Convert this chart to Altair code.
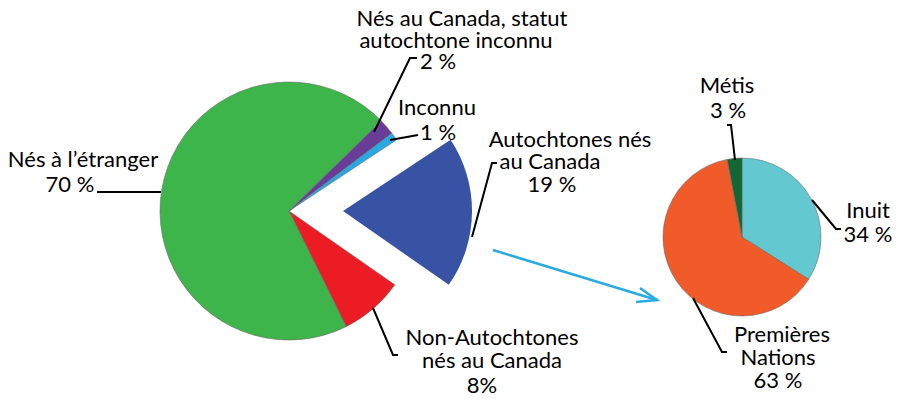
import altair as alt
import pandas as pd
import math

# ---------------- data ----------------
main_cats = ["Autochtones nés au Canada", "Non-Autochtones nés au Canada", "Nés à l’étranger",
             "Nés au Canada, statut autochtone inconnu", "Inconnu"]
main_vals = [19, 8, 70, 2, 1]
main_colors = ["#3853a4", "#ec1c24", "#3db54a", "#693c97", "#27aae1"]

sub_cats = ["Inuit", "Premières Nations", "Métis"]
sub_vals = [34, 63, 3]
sub_colors = ["#63c8d0", "#f15a29", "#136735"]

label_texts = ["Nés au Canada, statut", "autochtone inconnu", "2 %",
               "Inconnu", "1 %",
               "Autochtones nés", "au Canada", "19 %",
               "Nés à l’étranger", "70 %",
               "Non-Autochtones", "nés au Canada", "8%",
               "Métis", "3 %", "Inuit", "34 %",
               "Premières", "Nations", "63 %"]

# ---------------- layout (pixel positions in page coords) ----------------
M = 8
W, H = 884, 390
label_pos = [(462, 26), (456, 48), (438, 69),
             (437, 115), (438, 140),
             (570, 147), (550, 169), (552, 192),
             (83, 167), (70, 192),
             (492, 345), (492, 368), (482, 393),
             (727, 93), (728, 118), (868, 218), (868, 242),
             (782, 342), (778, 365), (778, 388)]

leaders = [
    [(97, 192), (161, 192)],
    [(374, 132), (410, 58), (417, 58)],
    [(390, 140), (418, 135)],
    [(472, 237), (492, 163), (497, 163)],
    [(373, 308), (393, 355), (398, 355)],
    [(735, 160), (731, 125), (727, 125)],
    [(812, 200), (836, 229), (841, 229)],
    [(693, 298), (722, 352), (727, 352)],
]
arrow = [[(493, 250), (657, 300)], [(640, 288), (657, 300), (636, 302)]]

big_c = (289, 211)
big_r = 129
explode_c = (343, 211)
small_c = (742, 237)
small_r = 79
big_start = math.radians(56.5)

# ---------------- frames ----------------
df_main = pd.DataFrame({"cat": main_cats, "val": main_vals, "idx": range(len(main_cats))})
df_sub = pd.DataFrame({"cat": sub_cats, "val": sub_vals, "idx": range(len(sub_cats))})
df_lab = pd.DataFrame({"t": label_texts,
                       "x": [p[0] - M for p in label_pos],
                       "y": [p[1] - M for p in label_pos]})

def lines_df(polys):
    rows = []
    for i, poly in enumerate(polys):
        for j, (x, y) in enumerate(poly):
            rows.append({"id": i, "o": j, "x": x - M, "y": y - M})
    return pd.DataFrame(rows)

df_lead = lines_df(leaders)
df_arrow = lines_df(arrow)

xs = alt.Scale(domain=[0, W], nice=False, zero=False)
ys = alt.Scale(domain=[H, 0], nice=False, zero=False)

color_main = alt.Color("cat:N", scale=alt.Scale(domain=main_cats, range=main_colors), legend=None)
color_sub = alt.Color("cat:N", scale=alt.Scale(domain=sub_cats, range=sub_colors), legend=None)

theta_main = alt.Theta("val:Q", stack=True,
                       scale=alt.Scale(domain=[0, 100], range=[big_start, big_start + 2 * math.pi]))
theta_sub = alt.Theta("val:Q", stack=True,
                      scale=alt.Scale(domain=[0, 100], range=[0, 2 * math.pi]))

is_blue = alt.datum.cat == main_cats[0]

pie_main = alt.Chart(df_main).mark_arc(radius=big_r, stroke="#6d6d6d", strokeWidth=0.6).encode(
    theta=theta_main, color=color_main, order=alt.Order("idx:Q"),
    x=alt.value(big_c[0] - M), y=alt.value(big_c[1] - M),
    opacity=alt.condition(is_blue, alt.value(0), alt.value(1)),
)
pie_explode = alt.Chart(df_main).mark_arc(radius=big_r).encode(
    theta=theta_main, color=color_main, order=alt.Order("idx:Q"),
    x=alt.value(explode_c[0] - M), y=alt.value(explode_c[1] - M),
    opacity=alt.condition(is_blue, alt.value(1), alt.value(0)),
)
pie_sub = alt.Chart(df_sub).mark_arc(radius=small_r, stroke="#6d6d6d", strokeWidth=0.6).encode(
    theta=theta_sub, color=color_sub, order=alt.Order("idx:Q"),
    x=alt.value(small_c[0] - M), y=alt.value(small_c[1] - M),
)

lead = alt.Chart(df_lead).mark_line(color="black", strokeWidth=2).encode(
    x=alt.X("x:Q", scale=xs, axis=None), y=alt.Y("y:Q", scale=ys, axis=None),
    detail="id:N", order="o:Q",
)
arr = alt.Chart(df_arrow).mark_line(color="#29abe2", strokeWidth=2.5).encode(
    x=alt.X("x:Q", scale=xs, axis=None), y=alt.Y("y:Q", scale=ys, axis=None),
    detail="id:N", order="o:Q",
)
labels = alt.Chart(df_lab).mark_text(font="Lato", fontSize=22, align="center",
                                     baseline="alphabetic", color="black").encode(
    x=alt.X("x:Q", scale=xs, axis=None), y=alt.Y("y:Q", scale=ys, axis=None), text="t:N",
)

chart = alt.layer(pie_main, pie_explode, pie_sub, lead, arr, labels).resolve_scale(
    color="independent", theta="independent"
).properties(
    width=W, height=H, padding=0, autosize=alt.AutoSizeParams(type="none")
).configure_view(stroke=None)

chart.save("out.html", embed_options={"renderer": "svg", "actions": False})
